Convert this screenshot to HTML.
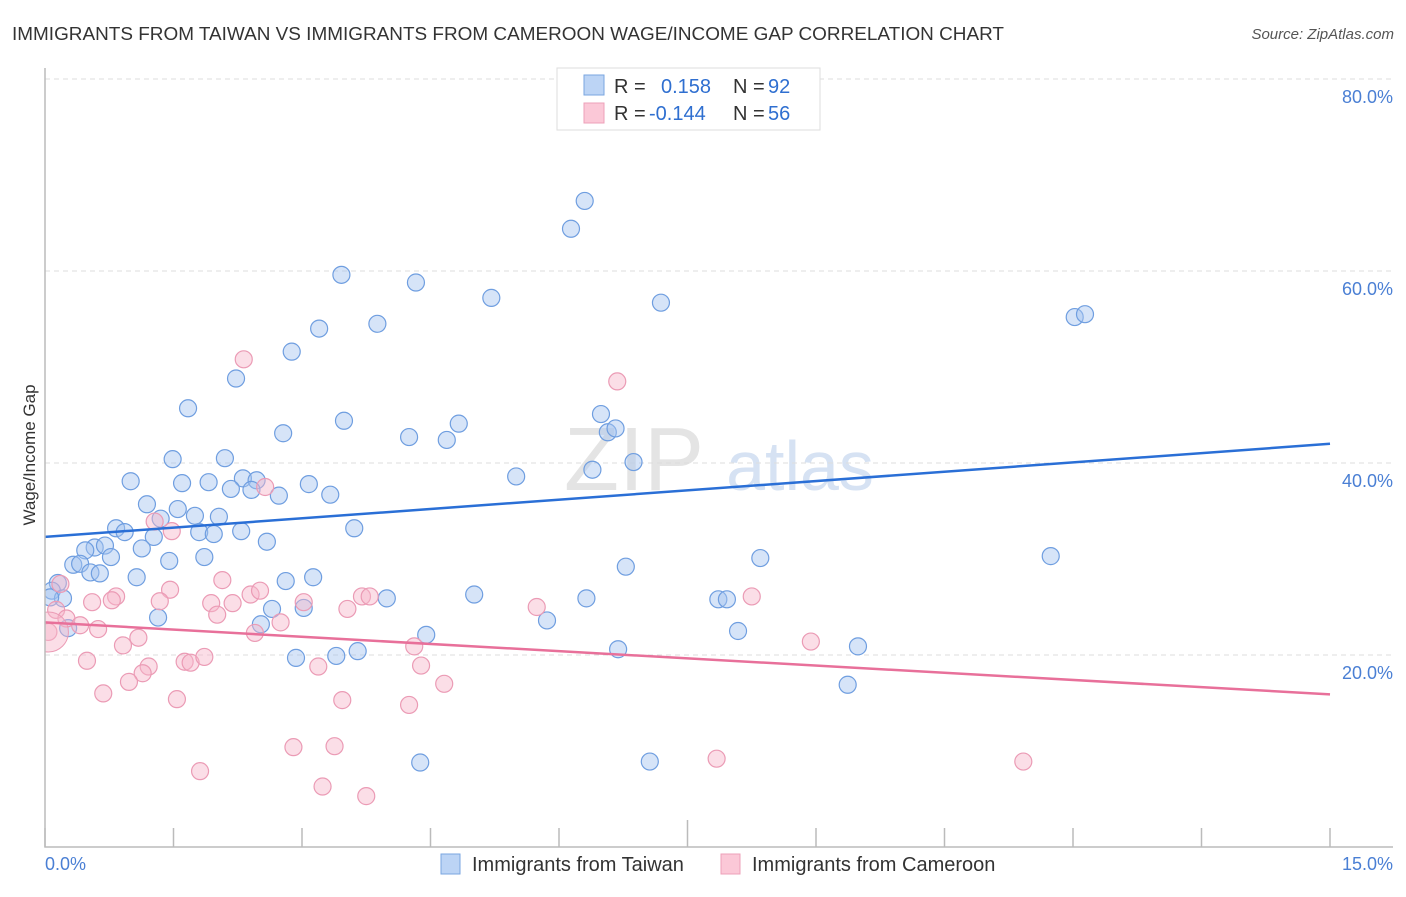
<!DOCTYPE html>
<html><head><meta charset="utf-8"><style>
body{margin:0;background:#fff;font-family:"Liberation Sans",sans-serif}
svg text{font-family:"Liberation Sans",sans-serif}
</style></head><body>
<svg id="chart" width="1406" height="892" xmlns="http://www.w3.org/2000/svg">
<defs><clipPath id="plotclip"><rect x="45" y="60" width="1360" height="787"/></clipPath></defs>
<text x="12" y="40" font-size="18" fill="#333" textLength="992" lengthAdjust="spacingAndGlyphs">IMMIGRANTS FROM TAIWAN VS IMMIGRANTS FROM CAMEROON WAGE/INCOME GAP CORRELATION CHART</text>
<text x="1394" y="39" font-size="15" fill="#555" font-style="italic" text-anchor="end">Source: ZipAtlas.com</text>
<text x="634" y="490" font-size="90" fill="#e4e4e4" font-family="Liberation Serif" text-anchor="middle">ZIP</text>
<text x="800" y="490" font-size="70" fill="#d6e2f3" text-anchor="middle">atlas</text>
<g id="grid"></g>
<g id="pts" clip-path="url(#plotclip)"></g>
<g id="lines"></g>
<g id="axes"></g>
<text x="35" y="455" font-size="17" fill="#333" text-anchor="middle" transform="rotate(-90 35 455)">Wage/Income Gap</text>
<text x="45" y="870" font-size="18" fill="#4a7fd4">0.0%</text>
<text x="1393" y="870" font-size="18" fill="#4a7fd4" text-anchor="end">15.0%</text>
<g>
<rect x="557" y="68" width="263" height="62" fill="#fff" stroke="#ddd"/>
<rect x="584" y="75" width="20" height="20" fill="#bcd4f5" stroke="#7aa6e0"/>
<rect x="584" y="103" width="20" height="20" fill="#fbc8d7" stroke="#eea0b8"/>
<text x="614" y="93" font-size="20" fill="#333">R =</text><text x="661" y="93" font-size="20" fill="#2f6fd0">0.158</text>
<text x="733" y="93" font-size="20" fill="#333">N =</text><text x="768" y="93" font-size="20" fill="#2f6fd0">92</text>
<text x="614" y="120" font-size="20" fill="#333">R =</text><text x="649" y="120" font-size="20" fill="#2f6fd0">-0.144</text>
<text x="733" y="120" font-size="20" fill="#333">N =</text><text x="768" y="120" font-size="20" fill="#2f6fd0">56</text>
</g>
<g>
<rect x="441" y="854" width="19" height="20" fill="#bcd4f5" stroke="#7aa6e0"/>
<text x="472" y="871" font-size="20" fill="#333">Immigrants from Taiwan</text>
<rect x="721" y="854" width="19" height="20" fill="#fbc8d7" stroke="#eea0b8"/>
<text x="752" y="871" font-size="20" fill="#333">Immigrants from Cameroon</text>
</g>
</svg>
<script>
const yTicks=[20,40,60,80];
const yTickLabels=["20.0%","40.0%","60.0%","80.0%"];
const xTicks=[0,1.5,3,4.5,6,7.5,9,10.5,12,13.5,15];
const taiwanX=[6.30,6.14,3.46,4.33,5.21,7.19,12.02,12.14,3.20,3.88,2.88,2.23,1.67,6.49,2.78,3.49,4.83,4.25,4.69,6.57,6.66,6.87,1.49,2.10,5.50,6.39,1.00,1.60,1.91,2.31,2.47,2.17,2.41,2.73,3.08,3.33,1.19,1.55,1.35,1.75,2.03,0.83,0.93,3.61,1.27,1.80,1.97,2.29,2.59,0.58,0.70,1.13,0.47,0.77,1.86,1.45,0.33,0.41,0.53,0.64,1.07,3.13,6.78,8.35,11.74,2.81,0.15,0.08,0.21,0.06,3.99,5.01,6.32,7.86,7.96,2.65,3.02,1.32,5.86,2.52,0.27,8.09,4.45,3.65,3.40,2.93,6.69,9.49,9.37,4.38,7.06];
const taiwanY=[67.3,64.4,59.6,58.8,57.2,56.7,55.2,55.5,54.0,54.5,51.6,48.8,45.7,45.1,43.1,44.4,44.1,42.7,42.4,43.2,43.6,40.1,40.4,40.5,38.6,39.3,38.1,37.9,38.0,38.4,38.2,37.3,37.2,36.6,37.8,36.7,35.7,35.2,34.2,34.5,34.4,33.2,32.8,33.2,32.3,32.8,32.6,32.9,31.8,31.2,31.4,31.1,30.9,30.2,30.2,29.8,29.4,29.5,28.6,28.5,28.1,28.1,29.2,30.1,30.3,27.7,27.5,26.7,25.9,26.0,25.9,26.3,25.9,25.8,25.8,24.8,24.9,23.9,23.6,23.2,22.8,22.5,22.1,20.4,19.9,19.7,20.6,20.9,16.9,8.8,8.9];
const cameroonX=[2.32,6.68,2.57,1.28,1.48,0.18,2.07,1.46,0.83,0.78,0.55,1.34,1.94,2.19,2.40,2.51,3.02,3.70,3.79,8.25,5.74,3.53,2.01,0.13,0.25,2.75,0.41,0.62,2.45,1.09,0.91,0.04,4.31,8.94,0.49,1.63,1.70,1.86,1.21,1.14,3.19,4.39,0.98,4.66,0.68,1.54,3.47,4.25,2.90,3.38,7.84,11.42,1.81,3.24,3.75];
const cameroonY=[50.8,48.5,37.5,33.9,32.9,27.4,27.8,26.8,26.1,25.7,25.5,25.6,25.4,25.4,26.3,26.7,25.5,26.1,26.1,26.1,25.0,24.8,24.2,24.7,23.8,23.4,23.1,22.7,22.3,21.8,21.0,22.4,20.9,21.4,19.4,19.3,19.2,19.8,18.8,18.1,18.8,18.9,17.2,17.0,16.0,15.4,15.3,14.8,10.4,10.5,9.2,8.9,7.9,6.3,5.3];
const taiwanTrend=[32.3,42.0];
const cameroonTrend=[23.4,15.9];
const NS="http://www.w3.org/2000/svg";
const X=v=>45+v*(1285/15);
const Y=v=>847-v*9.6;
function mk(tag,attrs,parent){const e=document.createElementNS(NS,tag);for(const k in attrs)e.setAttribute(k,attrs[k]);parent.appendChild(e);return e;}
const grid=document.getElementById('grid'),axes=document.getElementById('axes'),pts=document.getElementById('pts'),lines=document.getElementById('lines');
yTicks.forEach((t,i)=>{
 const l=mk('line',{x1:45,x2:1393,y1:Y(t),y2:Y(t),stroke:'#ddd','stroke-dasharray':'5,4'},grid);
 
 
 const tx=mk('text',{x:1393,y:Y(t)+24,'font-size':18,fill:'#4a7fd4','text-anchor':'end'},grid);
 tx.textContent=yTickLabels[i];
 
 
});
const ax=mk('path',{d:'M45 68V847H1393',stroke:'#bbb',fill:'none','stroke-width':1.5},axes);


xTicks.forEach((t,i)=>{
 const tk=mk('line',{x1:X(t),x2:X(t),y1:(i==5?820:828),y2:847,stroke:'#bbb','stroke-width':1.5},axes);
 
 
});
function series(xs,ys,fill,stroke,name){
 xs.forEach((x,i)=>{
  const c=mk('circle',{cx:X(x),cy:Y(ys[i]),r:8.5,fill:fill,stroke:stroke,'stroke-width':1.2},pts);
  
  
 });
}
series(taiwanX,taiwanY,'rgba(164,196,240,0.45)','#6f9ee0','point-taiwan');
series(cameroonX,cameroonY,'rgba(246,182,202,0.45)','#eb9bb5','point-cameroon');
const big=mk('circle',{cx:X(0.04),cy:Y(22.4),r:20,fill:'rgba(246,182,202,0.45)',stroke:'#eb9bb5'},pts);


const tl=mk('line',{x1:X(0),x2:X(15),y1:Y(taiwanTrend[0]),y2:Y(taiwanTrend[1]),stroke:'#2a6fd6','stroke-width':2.5},lines);


const cl=mk('line',{x1:X(0),x2:X(15),y1:Y(cameroonTrend[0]),y2:Y(cameroonTrend[1]),stroke:'#e8709a','stroke-width':2.5},lines);


</script>
</body></html>
